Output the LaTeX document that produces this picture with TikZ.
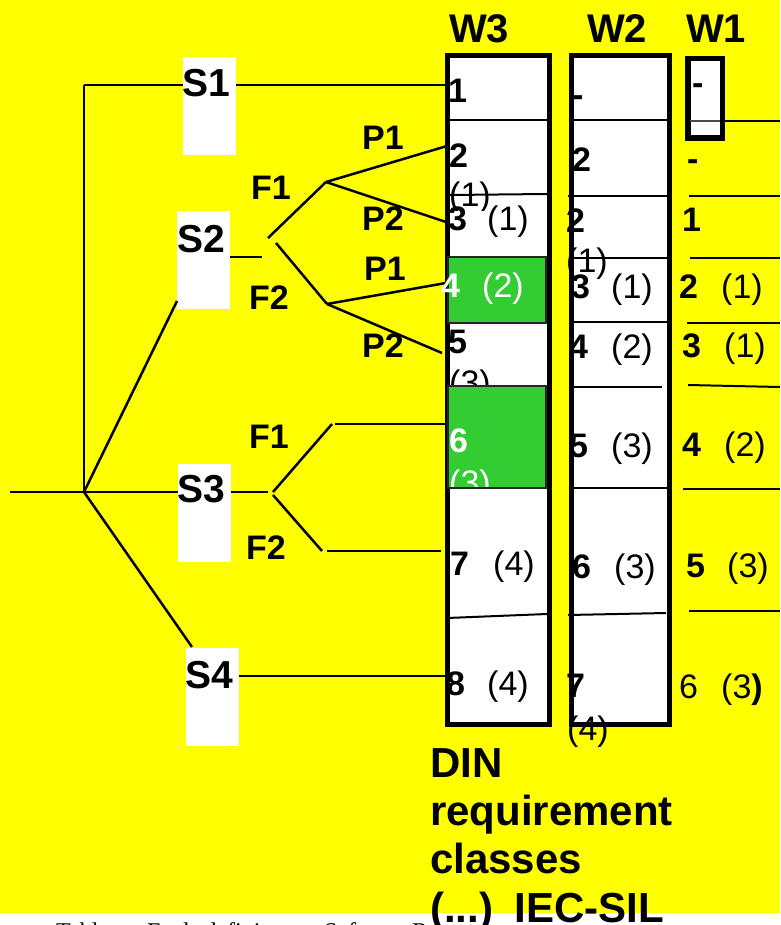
\documentclass[tikz,border=0pt]{standalone}
\usepackage{fontspec}
\setmainfont{Liberation Sans}
\newfontfamily\capfont{Liberation Serif}
\definecolor{cgreen}{HTML}{33CC33}
\definecolor{cyellow}{HTML}{FFFF00}
\tikzset{
  num/.style={anchor=base west, inner sep=0pt, font=\fontsize{34}{40}\selectfont\bfseries},
  par/.style={anchor=base west, inner sep=0pt, font=\fontsize{34}{40}\selectfont},
  lbl/.style={anchor=base west, inner sep=0pt, font=\fontsize{34}{40}\selectfont\bfseries},
  slbl/.style={anchor=base west, inner sep=0pt, font=\fontsize{39}{46}\selectfont\bfseries},
  hdr/.style={anchor=base west, inner sep=0pt, font=\fontsize{40}{48}\selectfont\bfseries},
  din/.style={anchor=base west, inner sep=0pt, font=\fontsize{42}{48}\selectfont\bfseries},
  capt/.style={anchor=base west, inner sep=0pt, font=\fontsize{24}{28}\selectfont\capfont},
  sbox/.style={fill=white, draw=none, minimum width=53pt, minimum height=98pt, inner sep=0pt},
  colbox/.style={fill=white, draw=black, line width=5pt, inner sep=0pt},
  cell/.style={fill=cgreen, draw=black!85, line width=2.5pt, inner sep=0pt},
  ln/.style={line width=2.5pt},
  rl/.style={line width=2pt},
}
\begin{document}
\begin{tikzpicture}[x=1pt,y=-1pt]
\useasboundingbox (0,0) rectangle (780,925);
\fill[white] (0,0) rectangle (780,925);
\fill[cyellow] (0,0) rectangle (780,913);

% ---------- coordinates ----------
\coordinate (lend) at (10,492);
\coordinate (root) at (84,492);
\coordinate (top) at (84,85);
\coordinate (w3s1) at (447,85);
\coordinate (s2in) at (177,301);
\coordinate (s2out) at (262,257);
\coordinate (f1a) at (268,238);
\coordinate (f1b) at (326,182);
\coordinate (f2a) at (276,243);
\coordinate (f2b) at (327,304);
\coordinate (w3p1) at (447,146);
\coordinate (w3p2) at (446,222);
\coordinate (w3p3) at (446,283);
\coordinate (w3p4) at (442,353);
\coordinate (s3out) at (268,492);
\coordinate (g1a) at (273,492);
\coordinate (g1b) at (332,424);
\coordinate (g1c) at (335,424);
\coordinate (w3f1) at (447,424);
\coordinate (g2a) at (273,495);
\coordinate (g2b) at (322,551);
\coordinate (g2c) at (327,551);
\coordinate (w3f2) at (441,551);
\coordinate (s4in) at (192,647);
\coordinate (s4y) at (239,676);
\coordinate (w3s4) at (447,676);

% ---------- S boxes ----------
\node[sbox] (s1) at (209.5,106.5) {};
\node[sbox] (s2) at (203.5,260) {};
\node[sbox] (s3) at (204.5,512.5) {};
\node[sbox] (s4) at (212.5,696.5) {};

% ---------- tree ----------
\draw[ln] (lend) -- (s3.west |- root);
\draw[ln] (top) -- (root);
\draw[ln] (top) -- (s1.west |- top);
\draw[ln] (s1.east |- top) -- (w3s1);
\draw[ln] (root) -- (s2in);
\draw[ln] (s2.east |- s2out) -- (s2out);
\draw[ln] (f1a) -- (f1b);
\draw[ln] (f2a) -- (f2b);
\draw[ln] (f1b) -- (w3p1);
\draw[ln] (f1b) -- (w3p2);
\draw[ln] (f2b) -- (w3p3);
\draw[ln] (f2b) -- (w3p4);
\draw[ln] (s3.east |- root) -- (s3out);
\draw[ln] (g1a) -- (g1b);
\draw[ln] (g1c) -- (w3f1);
\draw[ln] (g2a) -- (g2b);
\draw[ln] (g2c) -- (w3f2);
\draw[ln] (root) -- (s4in);
\draw[ln] (s4y) -- (w3s4);

\node[slbl] (t1) at (182,97) {S1};
\node[slbl] (t2) at (177,252) {S2};
\node[slbl] (t3) at (177,502) {S3};
\node[slbl] (t4) at (185,688) {S4};

\node[lbl] (pa) at (362,150) {P1};
\node[lbl] (fa) at (251,200) {F1};
\node[lbl] (pb) at (362,230) {P2};
\node[lbl] (pc) at (364,280) {P1};
\node[lbl] (fb) at (249,309) {F2};
\node[lbl] (pd) at (362,357) {P2};
\node[lbl] (fc) at (249,448) {F1};
\node[lbl] (fd) at (246,559) {F2};

% ---------- headers ----------
\node[hdr] (h3) at (449,43) {W3};
\node[hdr] (h2) at (587,43) {W2};
\node[hdr] (h1) at (686,43) {W1};

% ---------- columns ----------
\node[colbox, minimum width=102pt, minimum height=669pt] (w3) at (498.5,390) {};
\node[colbox, minimum width=98pt, minimum height=669pt] (w2) at (620.5,390) {};
\node[colbox, line width=5.5pt, minimum width=34.5pt, minimum height=79.5pt] (w1) at (705,98.5) {};

% W3 row lines
\draw[rl] (450,120) -- (547,120);
\draw[rl] (450,195) -- (547,194);
\draw[rl] (447,618) -- (547,614);
\node[cell, minimum width=98pt, minimum height=66pt] (c4) at (497,290) {};

% W2 row lines
\draw[rl] (573,120) -- (667,120);
\draw[rl] (568,196) -- (667,196);
\draw[rl] (573,258) -- (667,258);
\draw[rl] (573,322) -- (667,322);
\draw[rl] (573,387) -- (662,387);
\draw[rl] (573,488) -- (667,488);
\draw[rl] (568,615) -- (666,613);

% W1 row lines
\draw[rl, black!70] (690,121) -- (720,121);
\draw[rl] (720,121) -- (780,121);
\draw[rl] (689,196) -- (780,196);
\draw[rl] (690,258) -- (780,258);
\draw[rl] (687,323) -- (780,323);
\draw[rl] (688,385) -- (780,387);
\draw[rl] (683,489) -- (780,489);
\draw[rl] (689,611) -- (780,611);

% ---------- W3 texts ----------
\node[num] (a1) at (448,103) {1};
\node[num] (a2) at (449,168) {2};
\begin{scope}
\clip (440,175) rectangle (550,211);
\node[par] (a2b) at (449,207) {(1)};
\end{scope}
\node[num] (a3) at (448,230) {3};
\node[par] (a3b) at (487,230) {(1)};
\node[num, text=white] (a4) at (441,297) {4};
\node[par, text=white] (a4b) at (482,297) {(2)};
\node[num] (a5) at (448,353) {5};
\begin{scope}
\clip (440,330) rectangle (550,384);
\node[par] (a5b) at (449,394) {(3)};
\end{scope}
\node[cell, minimum width=98pt, minimum height=102pt] (c6) at (497,437) {};
\node[num, text=white] (a6) at (449,452) {6};
\begin{scope}
\clip (440,455) rectangle (550,486);
\node[par, text=white] (a6b) at (449,494) {(3)};
\end{scope}
\node[num] (a7) at (450,575) {7};
\node[par] (a7b) at (493,575) {(4)};
\node[num] (a8) at (446,695) {8};
\node[par] (a8b) at (487,695) {(4)};

% ---------- W2 texts ----------
\node[num] (b1) at (572,107) {-};
\node[num] (b2) at (572,172) {2};
\node[num] (b3) at (566,233) {2};
\node[par] (b3b) at (566,272) {(1)};
\node[num] (b4) at (571,298) {3};
\node[par] (b4b) at (611,298) {(1)};
\node[num] (b5) at (569,358) {4};
\node[par] (b5b) at (611,358) {(2)};
\node[num] (b6) at (569,457) {5};
\node[par] (b6b) at (611,457) {(3)};
\node[num] (b7) at (572,578) {6};
\node[par] (b7b) at (614,578) {(3)};
\node[num] (b8) at (566,697) {7};
\node[par] (b8b) at (567,740) {(4)};

% ---------- W1 texts ----------
\node[num] (d1) at (692,95) {-};
\node[num] (d2) at (687,171) {-};
\node[num] (d3) at (682,232) {1};
\node[num] (d4) at (679,298) {2};
\node[par] (d4b) at (721,298) {(1)};
\node[num] (d5) at (682,357) {3};
\node[par] (d5b) at (724,357) {(1)};
\node[num] (d6) at (682,456) {4};
\node[par] (d6b) at (724,456) {(2)};
\node[num] (d7) at (686,577) {5};
\node[par] (d7b) at (727,577) {(3)};
\node[par] (d8) at (679,698) {6};
\node[par] (d8b) at (721,698) {(3\textbf{)}};

% ---------- caption ----------
\node[capt] (k1) at (56,939) {Table:};
\node[capt] (k2) at (147,939) {Fault-defining};
\node[capt] (k3) at (324,939) {Safety};
\node[capt] (k4) at (412,939) {R};

% ---------- DIN text ----------
\node[din] (e1) at (430,777) {DIN};
\node[din] (e2) at (430,825) {requirement};
\node[din] (e3) at (430,873) {classes};
\node[din] (e4) at (430,922) {(...)\hspace{6pt} IEC-SIL};
\end{tikzpicture}
\end{document}
